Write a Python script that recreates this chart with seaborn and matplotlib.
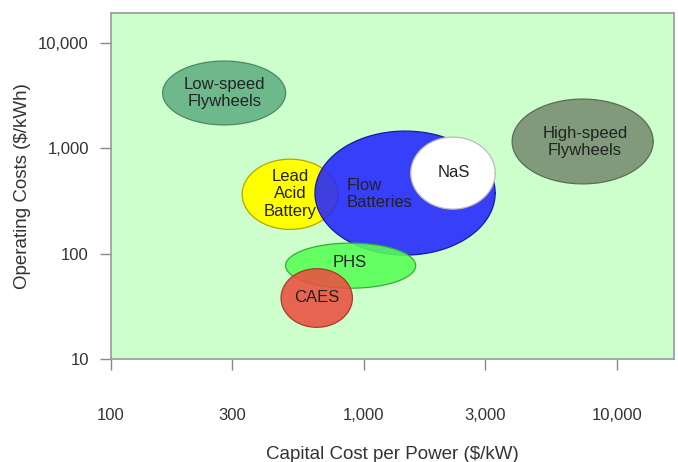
import numpy as np
import pandas as pd
import seaborn as sns
import matplotlib
matplotlib.use("Agg")
import matplotlib.pyplot as plt

# Storage technologies: ranges of capital cost per power ($/kW) and operating cost ($/kWh)
technologies = ["Low-speed\nFlywheels", "High-speed\nFlywheels", "Lead\nAcid\nBattery",
                "Flow\nBatteries", "NaS", "PHS", "CAES"]
cap_low = [160, 3850, 330, 640, 1530, 490, 470]
cap_high = [490, 13900, 790, 3300, 3300, 1600, 900]
op_low = [1670, 460, 170, 97, 265, 47, 20]
op_high = [6750, 2940, 790, 1460, 1280, 126, 72]
fill_colors = ["#6db98c", "#829a7c", "#ffff00", "#2424ff", "#ffffff", "#55ff55", "#eb4f3f"]
edge_colors = ["#4a8a63", "#5a6e55", "#b0a800", "#1a1aa0", "#bbbbbb", "#3aaa3a", "#a83a2c"]
alphas = [1.0, 1.0, 1.0, 0.88, 1.0, 0.88, 0.88]
# label anchors (x, y) in data units and alignment
label_x = [280, 7470, 510, 857, 2270, 880, 652]
label_y = [3350, 1150, 370, 370, 590, 83, 38]
label_ha = ["center", "center", "center", "left", "center", "center", "center"]

x_ticks = [100, 300, 1000, 3000, 10000]
x_tick_labels = ["100", "300", "1,000", "3,000", "10,000"]
y_ticks = [10, 100, 1000, 10000]
y_tick_labels = ["10", "100", "1,000", "10,000"]

df = pd.DataFrame({"tech": technologies, "cap_low": cap_low, "cap_high": cap_high,
                   "op_low": op_low, "op_high": op_high})

sns.set_theme(style="white")
plt.rcParams["font.family"] = ["Liberation Sans", "DejaVu Sans"]

fig = plt.figure(figsize=(6.78, 4.62), dpi=100)
ax = fig.add_axes([111 / 678, 1 - 359 / 462, 563 / 678, 346 / 462])
ax.set_facecolor("#ccffcc")
ax.set_xscale("log")
ax.set_yscale("log")
ax.set_xlim(100, 16800)
ax.set_ylim(10, 19300)

# each range is drawn as an ellipse in log-log space
t = np.linspace(0, 2 * np.pi, 240)
for i, row in df.iterrows():
    lx0, lx1 = np.log10(row.cap_low), np.log10(row.cap_high)
    ly0, ly1 = np.log10(row.op_low), np.log10(row.op_high)
    cx, cy = (lx0 + lx1) / 2, (ly0 + ly1) / 2
    rx, ry = (lx1 - lx0) / 2, (ly1 - ly0) / 2
    xs = 10 ** (cx + rx * np.cos(t))
    ys = 10 ** (cy + ry * np.sin(t))
    ax.fill(xs, ys, facecolor=fill_colors[i], alpha=alphas[i], edgecolor="none", zorder=2 + i)
    sns.lineplot(x=xs, y=ys, sort=False, estimator=None, ax=ax, color=edge_colors[i],
                 linewidth=0.9, zorder=2 + i)

for i, name in enumerate(technologies):
    ax.text(label_x[i], label_y[i], name, ha=label_ha[i], va="center", fontsize=12,
            color="#222222", linespacing=1.2, zorder=20)

ax.set_xticks(x_ticks)
ax.set_xticklabels(x_tick_labels)
ax.set_yticks(y_ticks)
ax.set_yticklabels(y_tick_labels)
ax.minorticks_off()
ax.tick_params(axis="x", direction="out", length=8, width=1, color="#888888", pad=27,
               labelsize=12, labelcolor="#333333", bottom=True)
ax.tick_params(axis="y", direction="out", length=8, width=1, color="#888888", pad=8,
               labelsize=12, labelcolor="#333333", left=True)
for side in ["left", "bottom", "top", "right"]:
    ax.spines[side].set_visible(True)
    ax.spines[side].set_color("#999999")
    ax.spines[side].set_linewidth(1.2)

ax.set_xlabel("Capital Cost per Power ($/kW)", fontsize=13.5, color="#333333", labelpad=17)
ax.set_ylabel("Operating Costs ($/kWh)", fontsize=13.5, color="#333333", labelpad=5)

fig.savefig("out.png", dpi=100)
